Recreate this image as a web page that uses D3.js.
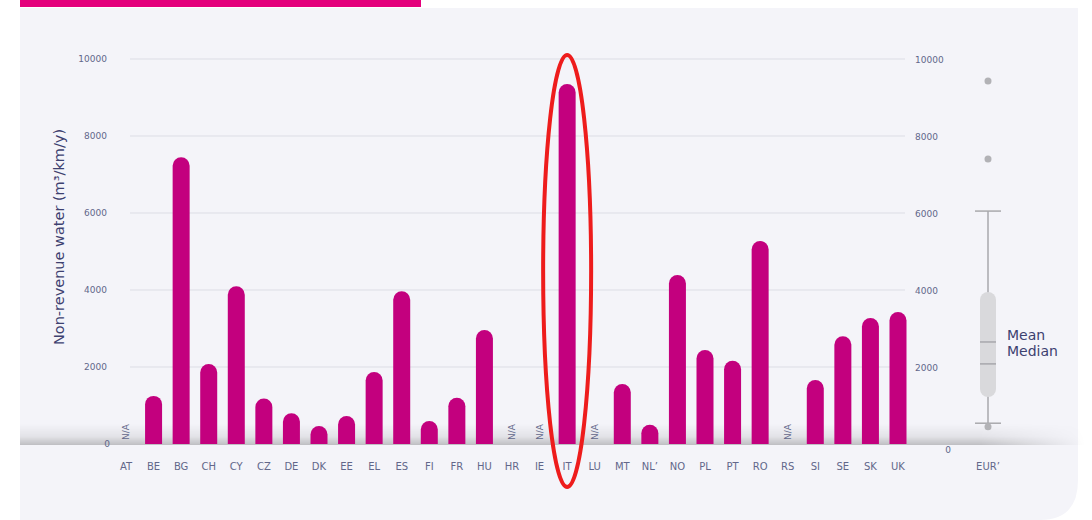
<!DOCTYPE html>
<html>
<head>
<meta charset="utf-8">
<script src="https://cdn.jsdelivr.net/npm/d3@7"></script>
<style>
  body { margin: 0; background: #fff; }
  svg { display: block; }
  text { font-family: "DejaVu Sans", Verdana, sans-serif; }
</style>
</head>
<body>
<svg id="chart" width="1092" height="520"></svg>
<script>
// countries, value in m3/km/y, null = N/A
const countries = ['AT','BE','BG','CH','CY','CZ','DE','DK','EE','EL','ES','FI','FR','HU','HR','IE','IT','LU','MT','NL','NO','PL','PT','RO','RS','SI','SE','SK','UK'];
const nrw = [null,1250,7450,2080,4100,1180,800,470,730,1870,3970,600,1200,2960,null,null,9350,null,1560,500,4390,2440,2160,5270,null,1660,2800,3270,3430];
const yTicks = [0,2000,4000,6000,8000,10000];
// EUR box plot
const boxStats = [540, 1220, 2080, 3950, 6050]; // low whisker, q1, median, q3, high whisker
const boxMean = [2650];
const boxOutliers = [9430, 7400, 450];

const svg = d3.select('#chart');
const labelColor = '#62678a';
const barColor = '#c3007e';

// panel background
svg.append('rect').attr('x', 0).attr('y', 0).attr('width', 1092).attr('height', 520).attr('fill', '#fff');
svg.append('path')
  .attr('d', 'M20,8 H1078 V480 Q1078,520 1040,520 H20 Z')
  .attr('fill', '#f4f4f9');
svg.append('rect').attr('x', 20).attr('y', 0).attr('width', 401).attr('height', 7).attr('fill', '#e4007c');

const y = d3.scaleLinear().domain([0, 10000]).range([444, 59]);
const x = d3.scalePoint().domain(countries).range([126, 898]);

// baseline shadow
const defs = svg.append('defs');
const g1 = defs.append('linearGradient').attr('id', 'shadeV').attr('x1', 0).attr('x2', 0).attr('y1', 0).attr('y2', 1);
g1.append('stop').attr('offset', '0%').attr('stop-color', '#000').attr('stop-opacity', 0);
g1.append('stop').attr('offset', '60%').attr('stop-color', '#000').attr('stop-opacity', 0.07);
g1.append('stop').attr('offset', '100%').attr('stop-color', '#000').attr('stop-opacity', 0.22);
const g2 = defs.append('linearGradient').attr('id', 'fadeH');
g2.append('stop').attr('offset', '0%').attr('stop-color', '#fff').attr('stop-opacity', 1);
g2.append('stop').attr('offset', '90%').attr('stop-color', '#fff').attr('stop-opacity', 1);
g2.append('stop').attr('offset', '100%').attr('stop-color', '#fff').attr('stop-opacity', 0);
const mask = defs.append('mask').attr('id', 'shadeMask');
mask.append('rect').attr('x', 20).attr('y', 420).attr('width', 1065).attr('height', 30).attr('fill', 'url(#fadeH)');
svg.append('rect')
  .attr('x', 20).attr('y', 424).attr('width', 1065).attr('height', 21)
  .attr('fill', 'url(#shadeV)')
  .attr('mask', 'url(#shadeMask)');

// grid
svg.append('g').selectAll('line').data(yTicks.filter(d => d > 0)).join('line')
  .attr('x1', 130).attr('x2', 905)
  .attr('y1', d => y(d)).attr('y2', d => y(d))
  .attr('stroke', '#dcdde5').attr('stroke-width', 1);

// left axis labels
svg.append('g').selectAll('text').data(yTicks).join('text')
  .attr('x', d => d === 0 ? 110 : 107)
  .attr('y', d => y(d) + 3)
  .attr('text-anchor', 'end')
  .attr('font-size', 9)
  .attr('fill', labelColor)
  .text(d => d);

// right axis labels
svg.append('g').selectAll('text').data(yTicks).join('text')
  .attr('x', d => d === 0 ? 948 : 915)
  .attr('y', d => d === 0 ? 453 : y(d) + 4)
  .attr('text-anchor', d => d === 0 ? 'middle' : 'start')
  .attr('font-size', 9)
  .attr('fill', labelColor)
  .text(d => d);

// y title
svg.append('text')
  .attr('transform', 'translate(64,237) rotate(-90)')
  .attr('text-anchor', 'middle')
  .attr('font-size', 14.5)
  .attr('fill', '#3d4170')
  .text('Non-revenue water (m³/km/y)');

// bars with rounded tops
const bw = 17;
const rows = countries.map((c, i) => ({ c, v: nrw[i] }));
svg.append('g').selectAll('path').data(rows.filter(d => d.v !== null)).join('path')
  .attr('fill', barColor)
  .attr('d', d => {
    const x0 = x(d.c) - bw / 2, top = y(d.v), base = y(0), r = bw / 2;
    return `M${x0},${base} V${top + r} A${r},${r} 0 0 1 ${x0 + bw},${top + r} V${base} Z`;
  });

// N/A labels
svg.append('g').selectAll('text').data(rows.filter(d => d.v === null)).join('text')
  .attr('transform', d => `translate(${x(d.c) + 3},440) rotate(-90)`)
  .attr('font-size', 9)
  .attr('fill', labelColor)
  .text('N/A');

// category labels
svg.append('g').selectAll('text').data(countries).join('text')
  .attr('x', d => x(d))
  .attr('y', 470)
  .attr('text-anchor', 'middle')
  .attr('font-size', 10)
  .attr('fill', labelColor)
  .text(d => d === 'NL' ? 'NL’' : d);

// EUR box plot
const bx = 988;
const box = svg.append('g');
box.append('line')
  .attr('x1', bx).attr('x2', bx)
  .attr('y1', y(boxStats[0])).attr('y2', y(boxStats[4]))
  .attr('stroke', '#a9a9ad').attr('stroke-width', 1.5);
box.selectAll('line.cap').data([boxStats[0], boxStats[4]]).join('line')
  .attr('class', 'cap')
  .attr('x1', bx - 13).attr('x2', bx + 13)
  .attr('y1', d => y(d)).attr('y2', d => y(d))
  .attr('stroke', '#a9a9ad').attr('stroke-width', 1.5);
box.append('rect')
  .attr('x', bx - 8).attr('width', 16)
  .attr('y', y(boxStats[3])).attr('height', y(boxStats[1]) - y(boxStats[3]))
  .attr('rx', 8)
  .attr('fill', '#d9d9dc');
box.selectAll('line.mid').data([boxStats[2], boxMean[0]]).join('line')
  .attr('class', 'mid')
  .attr('x1', bx - 8).attr('x2', bx + 8)
  .attr('y1', d => y(d)).attr('y2', d => y(d))
  .attr('stroke', '#9a9aa0').attr('stroke-width', 1.2);
box.selectAll('circle').data(boxOutliers).join('circle')
  .attr('cx', bx).attr('cy', d => y(d)).attr('r', 3.5)
  .attr('fill', '#b2b2b6');

svg.append('text').attr('x', 1007).attr('y', 340).attr('font-size', 14).attr('fill', '#3d4170').text('Mean');
svg.append('text').attr('x', 1007).attr('y', 356).attr('font-size', 14).attr('fill', '#3d4170').text('Median');
svg.append('text').attr('x', bx).attr('y', 470).attr('text-anchor', 'middle')
  .attr('font-size', 10).attr('fill', labelColor).text('EUR’');

// red annotation around IT
svg.append('ellipse')
  .attr('cx', x('IT')).attr('cy', 271)
  .attr('rx', 24).attr('ry', 216)
  .attr('fill', 'none').attr('stroke', '#ee1c1c').attr('stroke-width', 4);
</script>
</body>
</html>
